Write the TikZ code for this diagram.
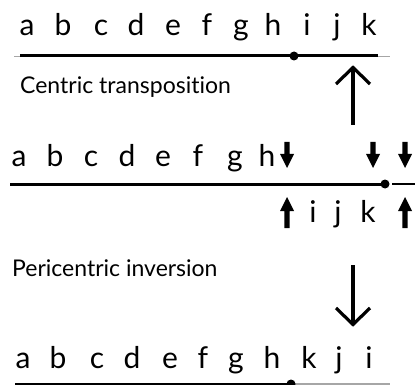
\documentclass[tikz,border=0pt]{standalone}
\usepackage{fontspec}
\setmainfont{Lato}[Ligatures=NoCommon]
\begin{document}
\begin{tikzpicture}[x=1pt,y=-1pt,
  letter/.style={anchor=base,inner sep=0pt,font=\fontsize{30}{30}\selectfont},
  caption/.style={anchor=base west,inner sep=0pt,font=\fontsize{23}{23}\selectfont},
  chrom/.style={line width=3pt,black},
  guide/.style={line width=0.8pt,black!35},
  centro/.style={circle,fill=black,inner sep=0pt,minimum size=9pt},
  openarrow/.style={line width=3.2pt,line cap=butt},
  fillarrow/.style={fill=black,draw=none}]
\useasboundingbox (0,0) rectangle (415,385);
% ---------- top row
\foreach \l/\x in {a/27,b/63,c/101,d/136,e/173,f/207,g/241,h/273,i/307,j/337,k/369}
  \node[letter] (t\l) at (\x,36) {\l};
\coordinate (tl) at (14,56); \coordinate (tr) at (390,56);
\coordinate (ts) at (20,56); \coordinate (te) at (378,56);
\draw[guide] (tl) -- (tr);
\draw[chrom] (ts) -- (te);
\node[centro] (tc) at (294,56) {};
\node[caption] (cap1) at (20,94) {Centric transposition};
% up open arrow
\coordinate (ua0) at (353,125); \coordinate (ua1) at (353,68);
\draw[openarrow] (ua0) -- (ua1);
\draw[openarrow,line join=miter] (336,84) -- (353,67.5) -- (370,84);
% ---------- middle row
\foreach \l/\x in {a/19,b/55,c/91,d/127,e/163,f/198,g/235,h/267}
  \node[letter] (m\l) at (\x,167) {\l};
\foreach \l/\x in {i/313,j/338,k/368}
  \node[letter] (m\l) at (\x,222) {\l};
\coordinate (ms) at (10,184); \coordinate (me) at (385,184);
\draw[chrom] (ms) -- (me);
\node[centro] (mc) at (385,184) {};
\coordinate (ms2) at (392,184); \coordinate (me2) at (415,184);
\draw[line width=2pt] (ms2) -- (me2);
% filled arrows down
\foreach \x in {287,373,405}{
  \fill[fillarrow] (\x-2.6,142) -- (\x+2.6,142) -- (\x+2.6,154) -- (\x+7,154) -- (\x,168) -- (\x-7,154) -- (\x-2.6,154) -- cycle;
}
% filled arrows up
\foreach \x in {287,405}{
  \fill[fillarrow] (\x-2.6,228) -- (\x+2.6,228) -- (\x+2.6,211) -- (\x+7,211) -- (\x,197) -- (\x-7,211) -- (\x-2.6,211) -- cycle;
}
\node[caption] (cap2) at (12,276) {Pericentric inversion};
% down open arrow
\coordinate (da0) at (353,265); \coordinate (da1) at (353,324);
\draw[openarrow] (da0) -- (da1);
\draw[openarrow,line join=miter] (336,308) -- (353,324.5) -- (370,308);
% ---------- bottom row
\foreach \l/\x in {a/23,b/58,c/97,d/132,e/170,f/203,g/236,h/272,k/309,j/339,i/369}
  \node[letter] (b\l) at (\x,368) {\l};
\coordinate (bs) at (15,384); \coordinate (bm) at (291,384); \coordinate (be) at (390,384);
\draw[guide,line width=2pt] (bm) -- (be);
\draw[chrom] (bs) -- (bm);
\node[centro] (bc) at (291,384) {};
\end{tikzpicture}
\end{document}
